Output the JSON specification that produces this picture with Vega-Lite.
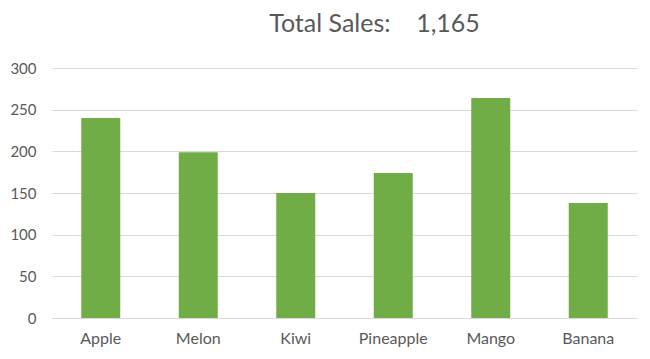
{
  "$schema": "https://vega.github.io/schema/vega-lite/v6.json",
  "autosize": {"type": "none"},
  "width": 585,
  "height": 250,
  "padding": {"left": 52, "top": 68, "right": 13, "bottom": 41},
  "background": "white",
  "title": {
    "text": "Total Sales:\u00a0\u00a0\u00a0 1,165",
    "fontSize": 25,
    "font": "Lato",
    "fontWeight": "normal",
    "color": "#595959",
    "anchor": "middle",
    "dx": 30,
    "baseline": "alphabetic",
    "offset": 4
  },
  "data": {
    "values": [
      {"fruit": "Apple", "sales": 240},
      {"fruit": "Melon", "sales": 199},
      {"fruit": "Kiwi", "sales": 150},
      {"fruit": "Pineapple", "sales": 174},
      {"fruit": "Mango", "sales": 264},
      {"fruit": "Banana", "sales": 138}
    ]
  },
  "mark": {"type": "bar", "color": "#70ad47"},
  "encoding": {
    "x": {
      "field": "fruit",
      "type": "nominal",
      "sort": null,
      "scale": {"paddingInner": 0.6, "paddingOuter": 0.3},
      "axis": {
        "title": null,
        "labelAngle": 0,
        "ticks": false,
        "domain": true,
        "domainColor": "#d9d9d9",
        "labelPadding": 12,
        "labelFont": "Lato",
        "labelFontSize": 16,
        "labelColor": "#595959"
      }
    },
    "y": {
      "field": "sales",
      "type": "quantitative",
      "scale": {"domain": [0, 300], "nice": false},
      "axis": {
        "title": null,
        "values": [0, 50, 100, 150, 200, 250, 300],
        "ticks": false,
        "domain": false,
        "grid": true,
        "gridColor": "#d9d9d9",
        "gridWidth": 1,
        "labelPadding": 16,
        "labelFont": "Lato",
        "labelFontSize": 15,
        "labelColor": "#595959"
      }
    }
  },
  "config": {"view": {"stroke": null}}
}
